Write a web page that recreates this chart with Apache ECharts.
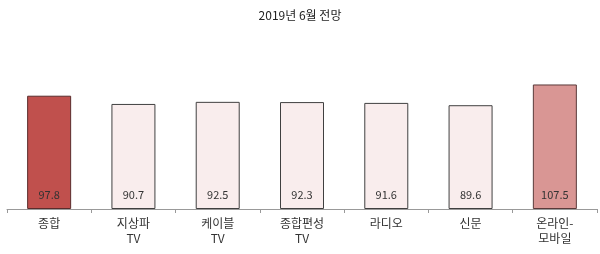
<!DOCTYPE html>
<html><head><meta charset="utf-8">
<script src="https://cdn.jsdelivr.net/npm/echarts@6/dist/echarts.min.js"></script>
<style>html,body{margin:0;padding:0;background:#fff}#c{width:600px;height:254px}</style>
</head><body><div id="c"></div>
<script>
const categories = ['종합', '지상파\nTV', '케이블\nTV', '종합편성\nTV', '라디오', '신문', '온라인-\n모바일'];
const values = [97.8, 90.7, 92.5, 92.3, 91.6, 89.6, 107.5];
const fills = ['#c0504d', '#f9eded', '#f9eded', '#f9eded', '#f9eded', '#f9eded', '#d99694'];
const borders = ['#5a2c2c', '#404040', '#404040', '#404040', '#404040', '#404040', '#5a3a3a'];
const FONT = '"Liberation Sans Narrow", "Noto Sans CJK KR", sans-serif';
const chart = echarts.init(document.getElementById('c'), null, {renderer: 'canvas'});
chart.setOption({
  animation: false,
  title: {text: '2019년 6월 전망', left: 'center', top: 4,
    textStyle: {fontFamily: FONT, fontSize: 12, fontWeight: 'normal', color: '#222'}},
  grid: {left: 7, right: 3, top: 70, bottom: 45, containLabel: false},
  xAxis: {type: 'category', data: categories,
    axisLine: {lineStyle: {color: '#999', width: 1}},
    axisTick: {show: true, length: 4, lineStyle: {color: '#999'}},
    axisLabel: {fontFamily: FONT, fontSize: 12, color: '#333', lineHeight: 15, margin: 7, interval: 0}},
  yAxis: {type: 'value', min: 0, max: 120, show: false, splitLine: {show: false}},
  series: [{type: 'bar', barWidth: 44,
    data: values.map((v, i) => ({value: v, itemStyle: {color: fills[i], borderColor: borders[i], borderWidth: 1}})),
    label: {show: true, position: 'insideBottom', distance: 9, fontFamily: FONT, fontSize: 11, color: '#333',
      formatter: p => p.value.toFixed(1)}
  }]
});
</script></body></html>
